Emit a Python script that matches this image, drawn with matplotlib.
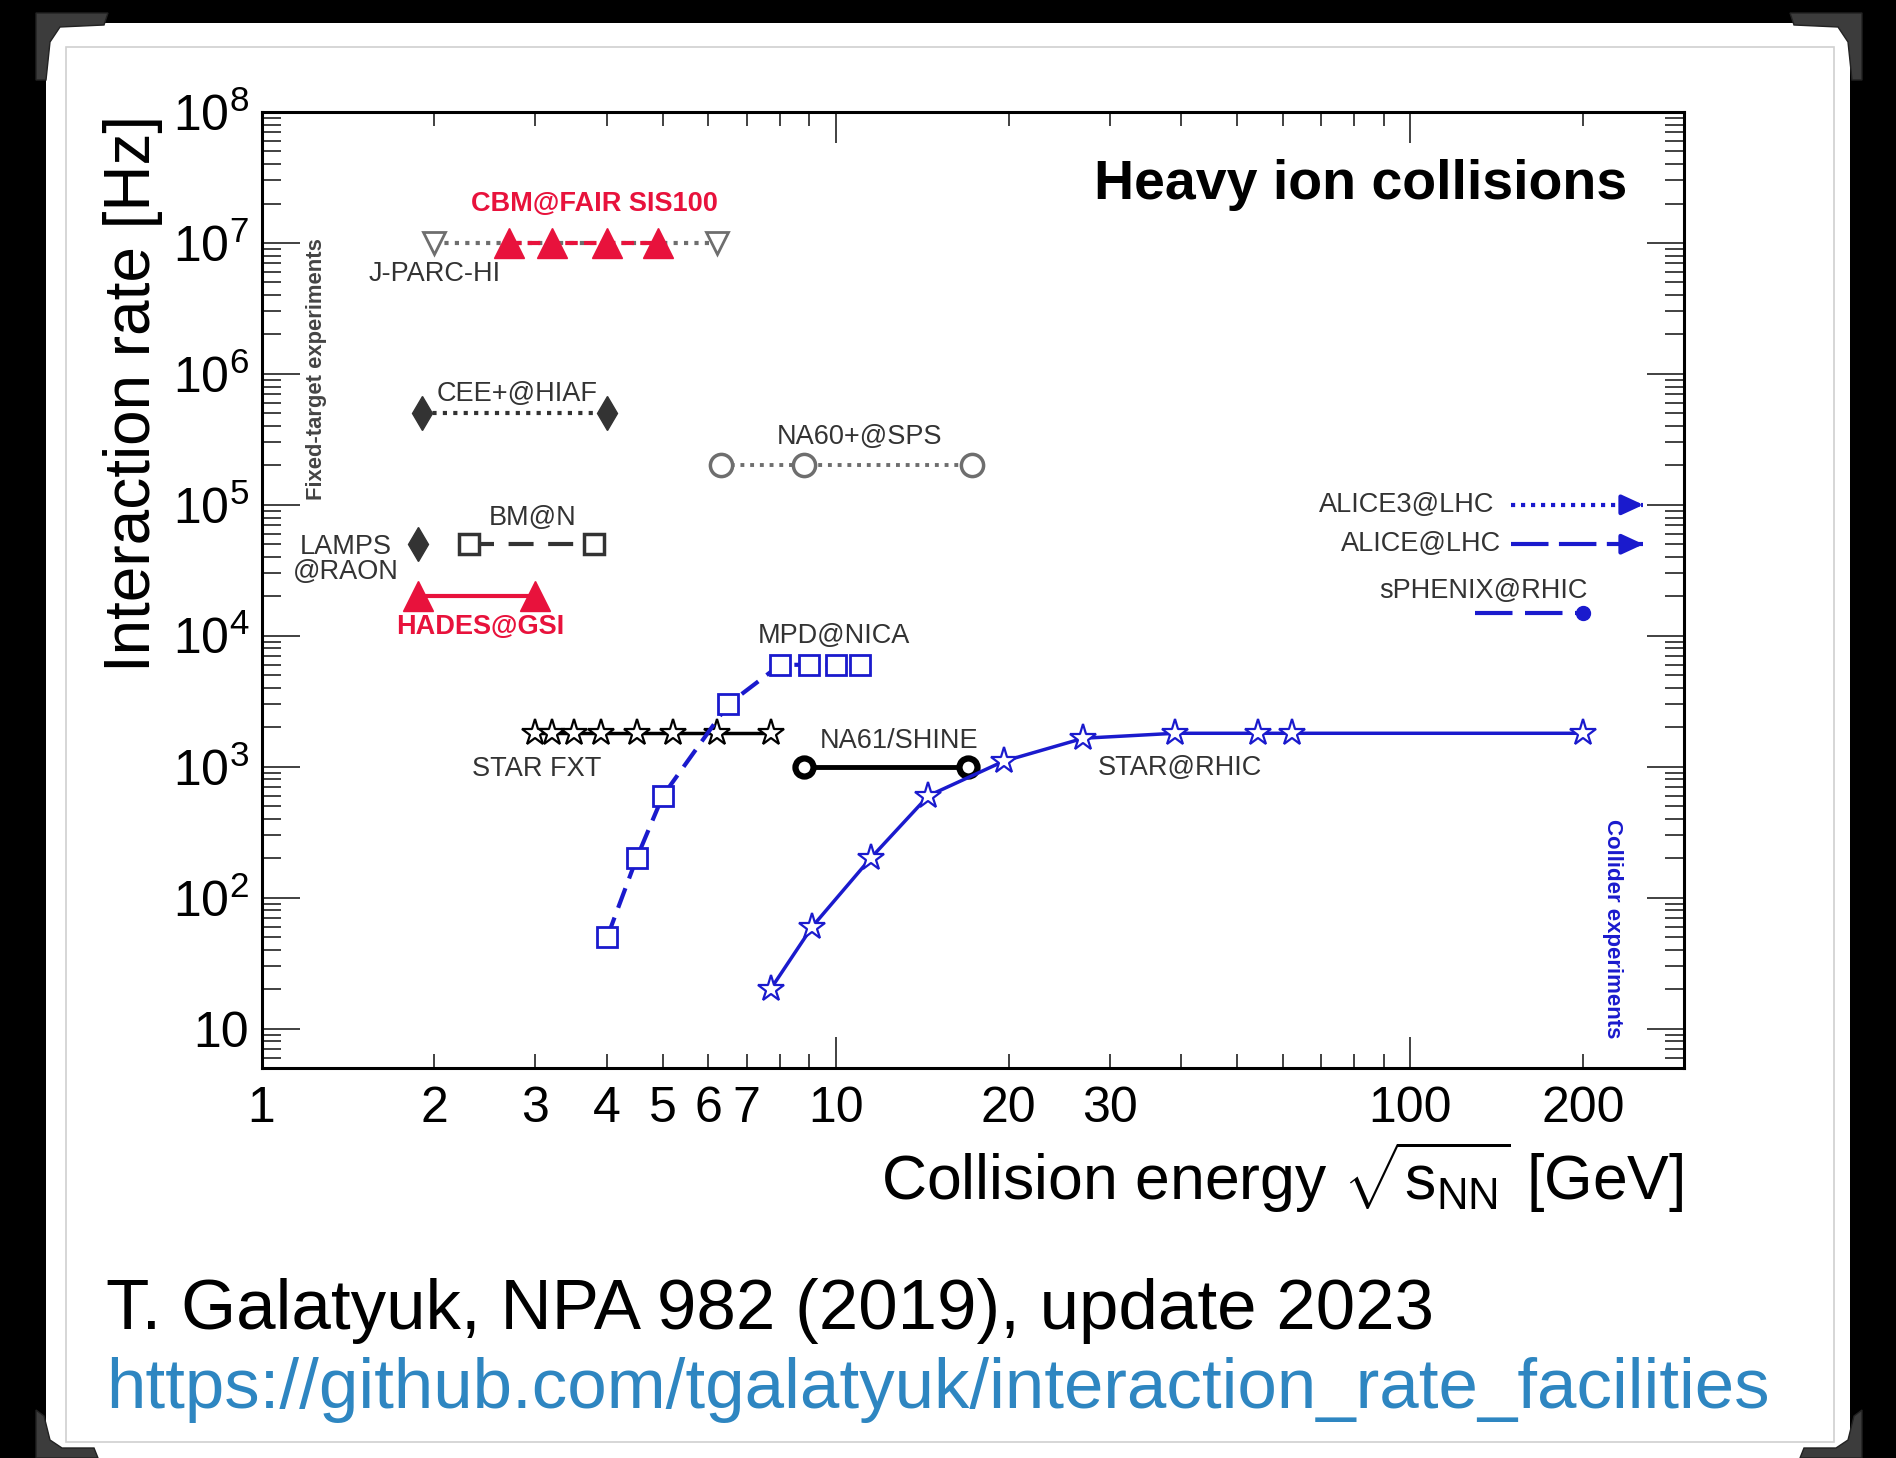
import matplotlib.pyplot as plt
import matplotlib.ticker as mticker
from matplotlib.patches import Rectangle, Polygon

plt.rcParams['font.family'] = 'Liberation Sans'
plt.rcParams['mathtext.fontset'] = 'custom'
plt.rcParams['mathtext.rm'] = 'Liberation Sans'
plt.rcParams['mathtext.it'] = 'Liberation Sans:italic'
plt.rcParams['mathtext.bf'] = 'Liberation Sans:bold'

# --- data (collision energy in GeV, interaction rate in Hz) ---
jparc_x = [2.0, 6.2]
jparc_y = [1e7, 1e7]
cbm_x = [2.7, 3.2, 4.0, 4.9]
cbm_y = [1e7, 1e7, 1e7, 1e7]
cee_x = [1.9, 4.0]
cee_y = [5e5, 5e5]
na60_x = [6.3, 8.8, 17.3]
na60_y = [2e5, 2e5, 2e5]
lamps_x = [1.87]
lamps_y = [5e4]
bmn_x = [2.3, 3.8]
bmn_y = [5e4, 5e4]
hades_x = [1.87, 3.0]
hades_y = [2e4, 2e4]
starfxt_x = [3.0, 3.2, 3.5, 3.9, 4.5, 5.2, 6.2, 7.7]
starfxt_y = [1800] * 8
na61_x = [8.8, 17.0]
na61_y = [1e3, 1e3]
mpd_x = [4.0, 4.5, 5.0, 6.5, 8.0, 9.0, 10.0, 11.0]
mpd_y = [50, 200, 600, 3000, 6000, 6000, 6000, 6000]
star_x = [7.7, 9.1, 11.5, 14.5, 19.6, 27, 39, 54.4, 62.4, 200]
star_y = [20, 60, 200, 600, 1100, 1650, 1800, 1800, 1800, 1800]
alice3_x = [150, 255]
alice3_y = [1e5, 1e5]
alice_x = [150, 255]
alice_y = [5e4, 5e4]
sphenix_x = [130, 200]
sphenix_y = [1.5e4, 1.5e4]

RED = '#e8123c'
BLUE = '#1a1acd'
GRAY = '#6e6e6e'
DARK = '#333333'

W, H = 1896, 1458
fig = plt.figure(figsize=(W / 100, H / 100), dpi=100, facecolor='black')


def fx(px):
    return px / W


def fy(py):
    return 1 - py / H


# paper sheet
fig.patches.append(Rectangle((fx(46), 0), fx(1850) - fx(46), fy(23), transform=fig.transFigure,
                             facecolor='white', edgecolor='none', zorder=-3))
fig.patches.append(Rectangle((fx(66), fy(1442)), fx(1834) - fx(66), fy(47) - fy(1442),
                             transform=fig.transFigure, facecolor='none', edgecolor='#d0d0d0',
                             lw=1.2, zorder=-2))
# photo corners
tl = [(36, 13), (108, 13), (104, 25), (60, 27), (50, 42), (46, 80), (36, 80)]
bl = [(36, 1410), (44, 1416), (50, 1440), (62, 1448), (94, 1448), (98, 1458), (36, 1458)]
for pts in (tl, bl):
    for mirror in (False, True):
        p = [(fx(1898 - x if mirror else x), fy(y)) for x, y in pts]
        fig.patches.append(Polygon(p, closed=True, transform=fig.transFigure,
                                   facecolor='#3c3c3c', edgecolor='#222222', lw=1, zorder=1))

ax = fig.add_axes([261.5 / W, 1 - 1068 / H, (1684 - 261.5) / W, (1068 - 112) / H])
ax.set_xscale('log')
ax.set_yscale('log')
ax.set_xlim(1, 300)
ax.set_ylim(5, 1e8)

# fixed-target
ax.plot(jparc_x, jparc_y, ls=(0, (1, 1.5)), lw=3, color=GRAY, marker='v', ms=16,
        mfc='white', mec=GRAY, mew=2)
ax.plot(cbm_x, cbm_y, ls=(0, (3, 1.5)), lw=3, color=RED, marker='^', ms=21, mec=RED, zorder=3)
ax.plot(cee_x, cee_y, ls=(0, (1, 1.5)), lw=3, color=DARK, marker='d', ms=17)
ax.plot(na60_x, na60_y, ls=(0, (1, 1.5)), lw=2.8, color=GRAY, marker='o', ms=16,
        mfc='white', mec=GRAY, mew=2.5)
ax.plot(lamps_x, lamps_y, ls='none', color=DARK, marker='d', ms=17)
ax.plot(bmn_x, bmn_y, ls=(0, (6, 3.5)), lw=3, color=DARK, marker='s', ms=14,
        mfc='white', mec=DARK, mew=2.5)
ax.plot(hades_x, hades_y, ls='-', lw=3, color=RED, marker='^', ms=21, mec=RED)
ax.plot(starfxt_x, starfxt_y, ls='-', lw=2.5, color='black', marker='*', ms=20,
        mfc='white', mec='black', mew=1.6)
ax.plot(na61_x, na61_y, ls='-', lw=3.5, color='black', marker='o', ms=13,
        mfc='white', mec='black', mew=4.5)
ax.plot(mpd_x, mpd_y, ls=(0, (5, 2.5)), lw=3, color=BLUE, marker='s', ms=14,
        mfc='white', mec=BLUE, mew=2)

# collider
ax.plot(star_x, star_y, ls='-', lw=2.5, color=BLUE, marker='*', ms=20,
        mfc='white', mec=BLUE, mew=1.6)
head = dict(arrowstyle='-|>,head_length=1.3,head_width=0.6', lw=3, color=BLUE,
            shrinkA=0, shrinkB=0)
ax.plot(alice3_x, alice3_y, ls=(0, (1, 1.4)), lw=3, color=BLUE)
ax.annotate('', xy=(alice3_x[1], alice3_y[1]), xytext=(alice3_x[1] * 0.94, alice3_y[1]),
            arrowprops=head)
ax.plot(alice_x, alice_y, ls=(0, (9, 2.5)), lw=3, color=BLUE)
ax.annotate('', xy=(alice_x[1], alice_y[1]), xytext=(alice_x[1] * 0.94, alice_y[1]),
            arrowprops=head)
ax.plot(sphenix_x, sphenix_y, ls=(0, (9, 3)), lw=3, color=BLUE)
ax.plot(sphenix_x[-1:], sphenix_y[-1:], ls='none', marker='o', ms=10, color=BLUE)

# labels
lab = dict(fontsize=19.5, color=DARK, ha='center', va='center')
ax.text(2.0, 5.8e6, 'J-PARC-HI', **lab)
ax.text(3.8, 2.0e7, 'CBM@FAIR SIS100', fontsize=19.5, color=RED, fontweight='bold',
        ha='center', va='center')
ax.text(2.79, 7.0e5, 'CEE+@HIAF', **lab)
ax.text(11.0, 3.3e5, 'NA60+@SPS', **lab)
ax.text(1.40, 3.8e4, 'LAMPS\n@RAON', linespacing=0.95, **lab)
ax.text(2.96, 7.9e4, 'BM@N', **lab)
ax.text(2.40, 1.17e4, 'HADES@GSI', fontsize=19.5, color=RED, fontweight='bold',
        ha='center', va='center')
ax.text(9.94, 1.0e4, 'MPD@NICA', **lab)
ax.text(3.01, 960, 'STAR FXT', **lab)
ax.text(12.9, 1570, 'NA61/SHINE', **lab)
ax.text(39.8, 980, 'STAR@RHIC', **lab)
ax.text(140, 1.0e5, 'ALICE3@LHC', fontsize=19.5, color=DARK, ha='right', va='center')
ax.text(144, 5.0e4, 'ALICE@LHC', fontsize=19.5, color=DARK, ha='right', va='center')
ax.text(134, 2.2e4, 'sPHENIX@RHIC', **lab)
ax.text(239, 2.75e7, 'Heavy ion collisions', fontsize=40, fontweight='bold',
        ha='right', va='center')
ax.text(1.249, 1.08e6, 'Fixed-target experiments', fontsize=15.8, fontweight='bold',
        color='#444444', rotation=90, ha='center', va='center')
ax.text(225, 57.5, 'Collider experiments', fontsize=16, fontweight='bold',
        color=BLUE, rotation=-90, ha='center', va='center')

# axes ticks
xmaj = [1, 10, 100]
xmin = [2, 3, 4, 5, 6, 7, 8, 9, 20, 30, 40, 50, 60, 70, 80, 90, 200]
xmin_lab = ['2', '3', '4', '5', '6', '7', '', '', '20', '30', '', '', '', '', '', '', '200']
ax.xaxis.set_major_locator(mticker.FixedLocator(xmaj))
ax.xaxis.set_major_formatter(mticker.FixedFormatter(['1', '10', '100']))
ax.xaxis.set_minor_locator(mticker.FixedLocator(xmin))
ax.xaxis.set_minor_formatter(mticker.FixedFormatter(xmin_lab))

ydec = [10, 1e2, 1e3, 1e4, 1e5, 1e6, 1e7, 1e8]
ylab = ['10'] + [r'$10^{%d}$' % k for k in range(2, 9)]
ax.yaxis.set_major_locator(mticker.FixedLocator(ydec))
ax.yaxis.set_major_formatter(mticker.FixedFormatter(ylab))
ax.yaxis.set_minor_locator(mticker.LogLocator(base=10, subs=range(2, 10), numticks=20))
ax.yaxis.set_minor_formatter(mticker.NullFormatter())

ax.tick_params(axis='both', which='both', direction='in', top=True, right=True,
               color='#333333', width=1.3, labelsize=36)
ax.tick_params(axis='x', which='major', length=22, pad=13)
ax.tick_params(axis='x', which='minor', length=10, pad=13)
ax.tick_params(axis='y', which='major', length=27, pad=9)
ax.tick_params(axis='y', which='minor', length=13.5)
for s in ax.spines.values():
    s.set_linewidth(2.2)

fig.text(fx(133), fy(115), 'Interaction rate [Hz]', fontsize=46, rotation=90,
         ha='center', va='top')
fig.text(fx(1684), fy(1200), r'Collision energy $\sqrt{\mathrm{s}_{\mathrm{NN}}}$ [GeV]',
         fontsize=45, ha='right', va='baseline')

fig.text(fx(106), fy(1329), 'T. Galatyuk, NPA 982 (2019), update 2023', fontsize=51,
         ha='left', va='baseline')
fig.text(fx(106), fy(1408), 'https://github.com/tgalatyuk/interaction_rate_facilities',
         fontsize=51, color='#2e86c1', ha='left', va='baseline')

fig.savefig('out.png', dpi=100, facecolor='black')
